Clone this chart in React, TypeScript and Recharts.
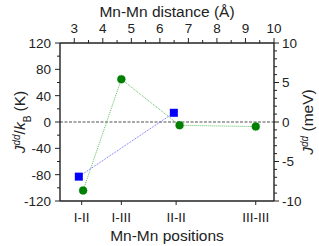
import { ComposedChart, Line, XAxis, YAxis, ReferenceLine, Label } from "recharts";

// green circles: J^dd (K) vs Mn-Mn distance (Å)
const circleDist = [3.31, 4.65, 6.69, 9.36];
const circleJ = [-104, 65, -5, -7];
// blue squares
const squareDist = [3.16, 6.49];
const squareJ = [-83, 14];

// bottom category axis
const positionLabels = ["I-II", "I-III", "II-II", "III-III"];
const positionTicks = [3.26, 4.65, 6.57, 9.36];

const distanceTicks = [3, 3.5, 4, 4.5, 5, 5.5, 6, 6.5, 7, 7.5, 8, 8.5, 9, 9.5, 10];
const kelvinTicks = [-120, -100, -80, -60, -40, -20, 0, 20, 40, 60, 80, 100, 120];
const mevTicks = [-10, -9, -8, -7, -6, -5, -4, -3, -2, -1, 0, 1, 2, 3, 4, 5, 6, 7, 8, 9, 10];

const circleData = circleDist.map((d, i) => ({ d, v: circleJ[i] }));
const squareData = squareDist.map((d, i) => ({ d, v: squareJ[i] }));

const FONT = '"Liberation Sans", Arial, Helvetica, sans-serif';
const INK = "#222";
const TICK_FS = 13.5;
const TITLE_FS = 15.5;

/* eslint-disable @typescript-eslint/no-explicit-any */
function TopTick(p: any) {
  const v = p.payload.value;
  const major = Number.isInteger(v);
  return (
    <g>
      <line x1={p.x} x2={p.x} y1={p.y} y2={p.y - (major ? 5 : 3)} stroke={INK} strokeWidth={1} />
      {major && (
        <text x={p.x} y={p.y - 10} textAnchor="middle" fontSize={TICK_FS} fontFamily={FONT} fill={INK}>
          {v}
        </text>
      )}
    </g>
  );
}

function BottomTick(p: any) {
  const idx = positionTicks.indexOf(p.payload.value);
  return (
    <g>
      <line x1={p.x} x2={p.x} y1={p.y} y2={p.y + 4} stroke={INK} strokeWidth={1} />
      <text x={p.x} y={p.y + 21} textAnchor="middle" fontSize={TICK_FS} fontFamily={FONT} fill={INK}>
        {positionLabels[idx]}
      </text>
    </g>
  );
}

function LeftTick(p: any) {
  const v = p.payload.value;
  const major = v % 40 === 0;
  return (
    <g>
      <line x1={p.x} x2={p.x - (major ? 5 : 3)} y1={p.y} y2={p.y} stroke={INK} strokeWidth={1} />
      {major && (
        <text x={p.x - 9} y={p.y} dy="0.36em" textAnchor="end" fontSize={TICK_FS} fontFamily={FONT} fill={INK}>
          {v}
        </text>
      )}
    </g>
  );
}

function RightTick(p: any) {
  const v = p.payload.value;
  const major = v % 5 === 0;
  return (
    <g>
      <line x1={p.x} x2={p.x + (major ? 5 : 3)} y1={p.y} y2={p.y} stroke={INK} strokeWidth={1} />
      {major && (
        <text x={p.x + 8} y={p.y} dy="0.36em" textAnchor="start" fontSize={TICK_FS} fontFamily={FONT} fill={INK}>
          {v}
        </text>
      )}
    </g>
  );
}

function Square(p: any) {
  return <rect key={`sq-${p.index}`} x={p.cx - 4} y={p.cy - 4} width={8} height={8} fill="#0000ff" />;
}

function LeftTitle(p: any) {
  const vb = p.viewBox;
  const cx = 25;
  const cy = vb.y + vb.height / 2;
  return (
    <text x={cx} y={cy} transform={`rotate(-90, ${cx}, ${cy})`} textAnchor="middle" fontSize={TITLE_FS} fontFamily={FONT} fill={INK}>
      <tspan fontStyle="italic">J</tspan>
      <tspan fontStyle="italic" fontSize={10} baselineShift="super">dd</tspan>
      <tspan>/</tspan>
      <tspan fontStyle="italic">k</tspan>
      <tspan fontSize={10} baselineShift="sub">B</tspan>
      <tspan> (K)</tspan>
    </text>
  );
}

function RightTitle(p: any) {
  const vb = p.viewBox;
  const cx = 313;
  const cy = vb.y + vb.height / 2;
  return (
    <text x={cx} y={cy} transform={`rotate(-90, ${cx}, ${cy})`} textAnchor="middle" fontSize={TITLE_FS} fontFamily={FONT} fill={INK}>
      <tspan fontStyle="italic">J</tspan>
      <tspan fontStyle="italic" fontSize={10} baselineShift="super">dd</tspan>
      <tspan> (meV)</tspan>
    </text>
  );
}

function TopTitle(p: any) {
  const vb = p.viewBox;
  return (
    <text x={vb.x + vb.width / 2} y={17} textAnchor="middle" fontSize={TITLE_FS} fontFamily={FONT} fill={INK}>
      Mn-Mn distance (Å)
    </text>
  );
}

function BottomTitle(p: any) {
  const vb = p.viewBox;
  return (
    <text x={vb.x + vb.width / 2} y={241} textAnchor="middle" fontSize={TITLE_FS} fontFamily={FONT} fill={INK}>
      Mn-Mn positions
    </text>
  );
}

export default function App() {
  return (
    <div style={{ position: "fixed", left: 0, top: 0, width: 319, height: 246, background: "#fff" }}>
      <ComposedChart width={319} height={246} margin={{ top: 0, right: 0, bottom: 0, left: 0 }}>
        <XAxis
          xAxisId="top"
          orientation="top"
          type="number"
          dataKey="d"
          domain={[2.5, 10]}
          ticks={distanceTicks}
          interval={0}
          height={43}
          tickSize={0}
          tickMargin={0}
          tickLine={false}
          axisLine={{ stroke: INK, strokeWidth: 1.4 }}
          tick={TopTick}
          allowDataOverflow
        >
          <Label content={TopTitle} />
        </XAxis>
        <XAxis
          xAxisId="bot"
          orientation="bottom"
          type="number"
          dataKey="d"
          domain={[2.5, 10]}
          ticks={positionTicks}
          interval={0}
          height={45}
          tickSize={0}
          tickMargin={0}
          tickLine={false}
          axisLine={{ stroke: INK, strokeWidth: 1.4 }}
          tick={BottomTick}
          allowDataOverflow
        >
          <Label content={BottomTitle} />
        </XAxis>
        <YAxis
          yAxisId="left"
          orientation="left"
          type="number"
          domain={[-120, 120]}
          ticks={kelvinTicks}
          interval={0}
          width={60}
          tickSize={0}
          tickMargin={0}
          tickLine={false}
          axisLine={{ stroke: INK, strokeWidth: 1.4 }}
          tick={LeftTick}
          allowDataOverflow
        >
          <Label content={LeftTitle} />
        </YAxis>
        <YAxis
          yAxisId="right"
          orientation="right"
          type="number"
          domain={[-10, 10]}
          ticks={mevTicks}
          interval={0}
          width={45}
          tickSize={0}
          tickMargin={0}
          tickLine={false}
          axisLine={{ stroke: INK, strokeWidth: 1.4 }}
          tick={RightTick}
          allowDataOverflow
        >
          <Label content={RightTitle} />
        </YAxis>
        <ReferenceLine xAxisId="top" yAxisId="left" y={0} stroke="#8c8c8c" strokeWidth={1.6} strokeDasharray="3 1.5" />
        <Line
          xAxisId="top"
          yAxisId="left"
          data={circleData}
          dataKey="v"
          stroke="#5cbf5c"
          strokeWidth={1}
          strokeDasharray="1 1"
          dot={{ r: 4, fill: "#008000", stroke: "#0a7a0a", strokeWidth: 0.5 }}
          isAnimationActive={false}
        />
        <Line
          xAxisId="bot"
          yAxisId="left"
          data={squareData}
          dataKey="v"
          stroke="#6b6bff"
          strokeWidth={1}
          strokeDasharray="1 1"
          dot={Square}
          isAnimationActive={false}
        />
      </ComposedChart>
    </div>
  );
}
